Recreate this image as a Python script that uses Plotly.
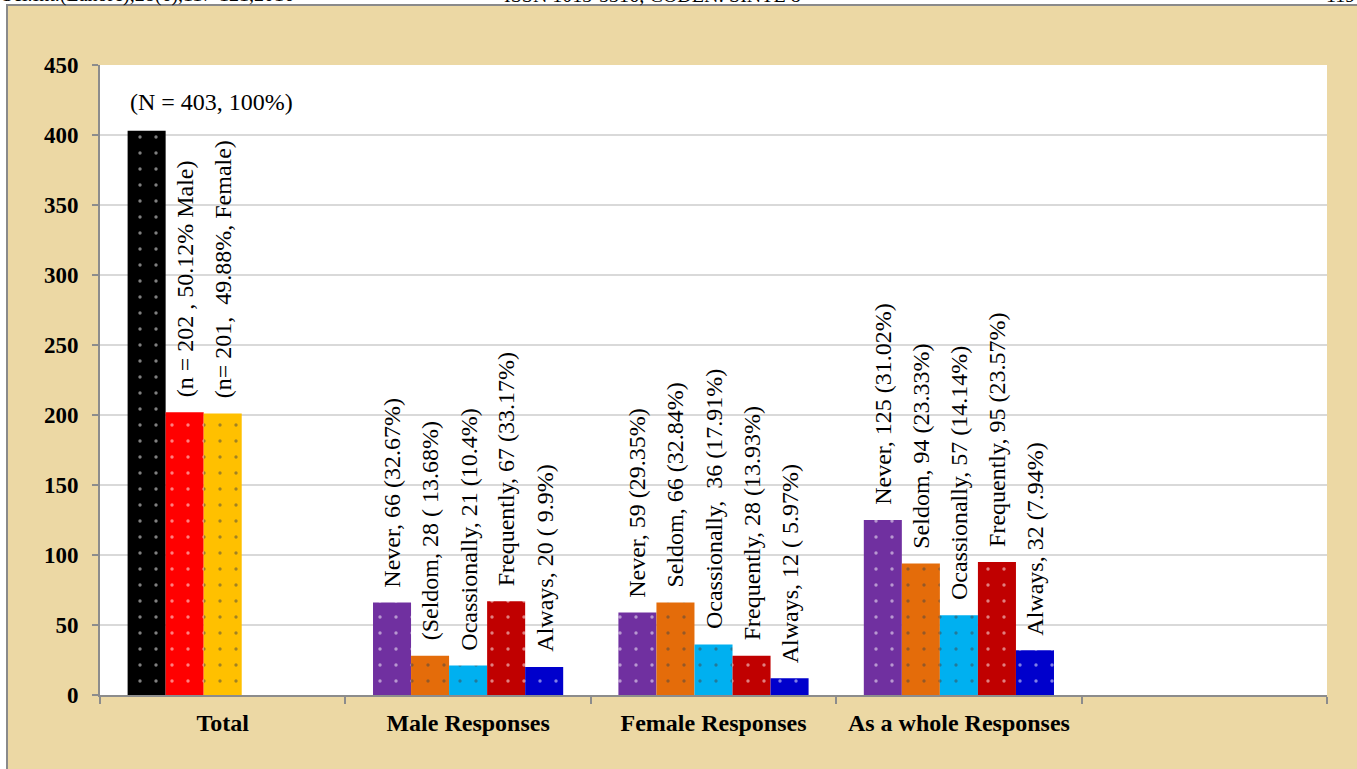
import plotly.graph_objects as go

# ---------------- data ----------------
categories = ["Total", "Male Responses", "Female Responses", "As a whole Responses", " "]

slot1_values = [403, 66, 59, 125, None]
slot2_values = [202, 28, 66, 94, None]
slot3_values = [201, 21, 36, 57, None]
slot4_values = [None, 67, 28, 95, None]
slot5_values = [None, 20, 12, 32, None]

slot1_labels = ["(N = 403, 100%)", "Never, 66 (32.67%)", "Never, 59 (29.35%)", "Never, 125 (31.02%)", None]
slot2_labels = ["(n = 202 , 50.12% Male)", "(Seldom, 28 ( 13.68%)", "Seldom, 66 (32.84%)", "Seldom, 94 (23.33%)", None]
slot3_labels = ["(n= 201,\u00a0 49.88%, Female)", "Ocassionally, 21 (10.4%)", "Ocassionally,\u00a0 36 (17.91%)", "Ocassionally, 57 (14.14%)", None]
slot4_labels = [None, "Frequently, 67 (33.17%)", "Frequently, 28 (13.93%)", "Frequently, 95 (23.57%)", None]
slot5_labels = [None, "Always, 20 ( 9.9%)", "Always, 12 ( 5.97%)", "Always, 32 (7.94%)", None]

slot1_colors = ["#000000", "#7030a0", "#7030a0", "#7030a0", "#7030a0"]
slot2_colors = ["#ff0000", "#e46c0a", "#e46c0a", "#e46c0a", "#e46c0a"]
slot3_colors = ["#ffc000", "#00b0f0", "#00b0f0", "#00b0f0", "#00b0f0"]
slot4_colors = ["#c00000"] * 5
slot5_colors = ["#0000cc"] * 5

header_texts = ["Sci.Int.(Lahore),28(6),117-121,2016", "ISSN 1013-5316; CODEN: SINTE 8", "119"]

# ---------------- figure ----------------
values = [slot1_values, slot2_values, slot3_values, slot4_values, slot5_values]
labels = [slot1_labels, slot2_labels, slot3_labels, slot4_labels, slot5_labels]
colors = [slot1_colors, slot2_colors, slot3_colors, slot4_colors, slot5_colors]

BARGAP = 0.225
n_series = len(values)
bw = (1 - BARGAP) / n_series

SERIF = "Liberation Serif, Times New Roman, serif"

fig = go.Figure()
for i in range(n_series):
    fig.add_trace(go.Bar(
        x=categories,
        y=values[i],
        marker=dict(
            color=colors[i],
            line=dict(width=0),
            pattern=dict(shape=".", size=16, solidity=0.035,
                         fgcolor="rgba(255,255,255,0.9)", fillmode="overlay"),
        ),
        showlegend=False,
        hoverinfo="skip",
    ))

annotations = []
for i in range(n_series):
    for j in range(len(categories)):
        v = values[i][j]
        t = labels[i][j]
        if v is None or t is None:
            continue
        xc = j + (i - (n_series - 1) / 2) * bw
        if i == 0 and j == 0:
            annotations.append(dict(
                x=xc - bw / 2, y=v, xref="x", yref="y", text=t, showarrow=False,
                xanchor="left", yanchor="bottom", yshift=14,
                font=dict(family=SERIF, size=24, color="black"),
            ))
        else:
            annotations.append(dict(
                x=xc, y=v, xref="x", yref="y", text=t, showarrow=False,
                textangle=-90, xanchor="center", yanchor="bottom", yshift=13,
                font=dict(family=SERIF, size=24, color="black"),
            ))

# page header (cut off at top of the image, as in the reference)
L, R, T, B = 100, 30, 65, 74
W, H = 1357, 769
pw, ph = W - L - R, H - T - B


def px2x(px):
    return (px - L) / pw


def px2y(py):
    return (H - B - py) / ph


header_x = [0, 502, 1357]
header_anchor = ["left", "left", "right"]
for k, txt in enumerate(header_texts):
    annotations.append(dict(
        x=px2x(header_x[k]), y=px2y(-5), xref="paper", yref="paper", text=txt,
        showarrow=False, xanchor=header_anchor[k], yanchor="middle",
        font=dict(family=SERIF, size=20, color="black"),
    ))

shapes = [
    dict(type="rect", xref="paper", yref="paper", x0=px2x(7), x1=px2x(W + 20),
         y0=px2y(H + 20), y1=px2y(5), fillcolor="#ecd8a4",
         line=dict(color="#8a8a8a", width=2), layer="below"),
    dict(type="rect", xref="paper", yref="paper", x0=0, x1=1, y0=0, y1=1,
         fillcolor="white", line=dict(width=0), layer="below"),
]

fig.update_layout(
    width=W, height=H,
    margin=dict(l=L, r=R, t=T, b=B),
    barmode="group", bargap=BARGAP, bargroupgap=0,
    paper_bgcolor="white", plot_bgcolor="white",
    annotations=annotations, shapes=shapes,
    font=dict(family=SERIF, color="black"),
)
fig.update_xaxes(
    type="category", categoryorder="array", categoryarray=categories,
    range=[-0.5, len(categories) - 0.5],
    tickson="boundaries", ticks="outside", ticklen=7, tickwidth=2, tickcolor="#8c8c8c",
    showline=True, linecolor="#8c8c8c", linewidth=2, showgrid=False,
    tickfont=dict(family=SERIF, size=24, color="black", weight="bold"),
    ticklabelstandoff=5,
)
fig.update_yaxes(
    range=[0, 450], dtick=50, tick0=0,
    showgrid=True, gridcolor="#d9d9d9", gridwidth=1.5,
    showline=True, linecolor="#8c8c8c", linewidth=2,
    ticks="outside", ticklen=6, tickwidth=2, tickcolor="#8c8c8c",
    zeroline=False,
    tickfont=dict(family=SERIF, size=23, color="black", weight="bold"),
    ticklabelstandoff=9,
)

fig.write_html("out.html")
